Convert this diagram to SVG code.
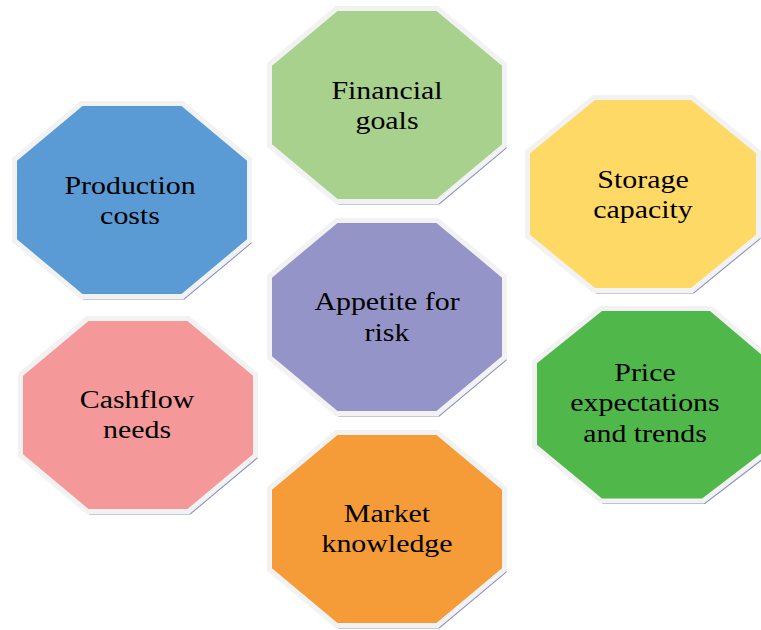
<svg xmlns="http://www.w3.org/2000/svg" xmlns:xlink="http://www.w3.org/1999/xlink" width="761" height="630" viewBox="0 0 761 630">
<style>
.shadow{fill:#8a93bf;filter:url(#blur)}
.oct{stroke:#f2f2f2;stroke-width:5;stroke-linejoin:miter}
.lbl{font-family:"Liberation Serif","Times New Roman",serif;font-size:26px;fill:#000;text-anchor:middle}
</style>
<defs>
<filter id="blur" x="-5%" y="-5%" width="110%" height="110%"><feGaussianBlur stdDeviation="0.7"/></filter>
<polygon id="oct" points="67,0 168,0 235,56 235,137 168,193 67,193 0,137 0,56"/>
</defs>
<rect width="761" height="630" fill="#ffffff"/>
<g id="connectors"/>
<g id="financial-goals">
<use xlink:href="#oct" class="shadow" transform="translate(271.5,11.5)"/>
<use xlink:href="#oct" class="oct" fill="#a9d18e" transform="translate(269.5,8.5)"/>
<g transform="translate(387,0) scale(1.15,1)"><text class="lbl" x="0" y="99">Financial</text><text class="lbl" x="0" y="129.5">goals</text></g>
</g>
<g id="production-costs">
<use xlink:href="#oct" class="shadow" transform="translate(16.5,106.5)"/>
<use xlink:href="#oct" class="oct" fill="#5b9bd5" transform="translate(14.5,103.5)"/>
<g transform="translate(130,0) scale(1.15,1)"><text class="lbl" x="0" y="194">Production</text><text class="lbl" x="0" y="224.5">costs</text></g>
</g>
<g id="storage-capacity">
<polygon class="shadow" transform="translate(2,3)" points="594,97.5 692,97.5 758.5,152 758.5,236 692,290.5 594,290.5 527.5,236 527.5,152"/>
<polygon class="oct" fill="#ffd966" points="594,97.5 692,97.5 758.5,152 758.5,236 692,290.5 594,290.5 527.5,236 527.5,152"/>
<g transform="translate(643,0) scale(1.15,1)"><text class="lbl" x="0" y="188">Storage</text><text class="lbl" x="0" y="218.5">capacity</text></g>
</g>
<g id="appetite-for-risk">
<use xlink:href="#oct" class="shadow" transform="translate(271.5,223.5)"/>
<use xlink:href="#oct" class="oct" fill="#9594c8" transform="translate(269.5,220.5)"/>
<g transform="translate(387,0) scale(1.15,1)"><text class="lbl" x="0" y="310.5">Appetite for</text><text class="lbl" x="0" y="341">risk</text></g>
</g>
<g id="cashflow-needs">
<use xlink:href="#oct" class="shadow" transform="translate(22.5,321.5)"/>
<use xlink:href="#oct" class="oct" fill="#f4989a" transform="translate(20.5,318.5)"/>
<g transform="translate(137,0) scale(1.15,1)"><text class="lbl" x="0" y="408">Cashflow</text><text class="lbl" x="0" y="438.5">needs</text></g>
</g>
<g id="price-expectations">
<polygon class="shadow" transform="translate(2,3)" points="601,308.5 711,308.5 775,363 775,446 703,501 601,501 534.5,446 534.5,362"/>
<polygon class="oct" fill="#50b84b" points="601,308.5 711,308.5 775,363 775,446 703,501 601,501 534.5,446 534.5,362"/>
<g transform="translate(645,0) scale(1.15,1)"><text class="lbl" x="0" y="381">Price</text><text class="lbl" x="0" y="411.5">expectations</text><text class="lbl" x="0" y="442">and trends</text></g>
</g>
<g id="market-knowledge">
<use xlink:href="#oct" class="shadow" transform="translate(271.5,435.5)"/>
<use xlink:href="#oct" class="oct" fill="#f59b37" transform="translate(269.5,432.5)"/>
<g transform="translate(387,0) scale(1.15,1)"><text class="lbl" x="0" y="522">Market</text><text class="lbl" x="0" y="552.5">knowledge</text></g>
</g>
</svg>
